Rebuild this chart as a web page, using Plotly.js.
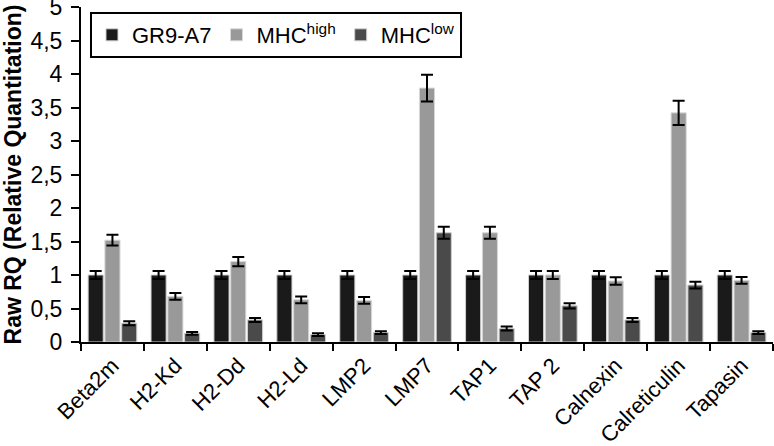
<!DOCTYPE html>
<html>
<head>
<meta charset="utf-8">
<script src="https://cdn.plot.ly/plotly-3.0.1.min.js"></script>
<style>
  html, body { margin: 0; padding: 0; background: #fff; }
  #myDiv { width: 774px; height: 446px; }
</style>
</head>
<body>
<div id="myDiv"></div>
<script>
var genes = ["Beta2m", "H2-Kd", "H2-Dd", "H2-Ld", "LMP2", "LMP7", "TAP1", "TAP 2", "Calnexin", "Calreticulin", "Tapasin"];

var gr9 = [1, 1, 1, 1, 1, 1, 1, 1, 1, 1, 1];
var gr9Err = [0.06, 0.06, 0.06, 0.06, 0.06, 0.06, 0.06, 0.06, 0.06, 0.06, 0.06];

var mhcHigh = [1.52, 0.68, 1.2, 0.63, 0.62, 3.79, 1.63, 1.0, 0.91, 3.42, 0.92];
var mhcHighErr = [0.08, 0.05, 0.07, 0.05, 0.05, 0.2, 0.09, 0.06, 0.055, 0.18, 0.05];

var mhcLow = [0.28, 0.13, 0.33, 0.11, 0.14, 1.63, 0.2, 0.54, 0.33, 0.85, 0.14];
var mhcLowErr = [0.03, 0.02, 0.03, 0.02, 0.02, 0.09, 0.03, 0.04, 0.03, 0.05, 0.02];

var yTickVals = [0, 0.5, 1, 1.5, 2, 2.5, 3, 3.5, 4, 4.5, 5];
var yTickText = ["0", "0,5", "1", "1,5", "2", "2,5", "3", "3,5", "4", "4,5", "5"];

function errBar(arr) {
  return { type: "data", array: arr, visible: true, color: "#000", thickness: 2, width: 6 };
}

var trace1 = {
  x: genes,
  y: gr9,
  name: "GR9-A7",
  type: "bar",
  marker: { color: "#1a1a1a", line: { color: "#cfcfcf", width: 1 } },
  error_y: errBar(gr9Err)
};

var trace2 = {
  x: genes,
  y: mhcHigh,
  name: "MHC<sup>high</sup>",
  type: "bar",
  marker: { color: "#999999", line: { color: "#d8d8d8", width: 1 } },
  error_y: errBar(mhcHighErr)
};

var trace3 = {
  x: genes,
  y: mhcLow,
  name: "MHC<sup>low</sup>",
  type: "bar",
  marker: { color: "#4a4a4a", line: { color: "#cfcfcf", width: 1 } },
  error_y: errBar(mhcLowErr)
};

var data = [trace1, trace2, trace3];

var layout = {
  width: 774,
  height: 446,
  margin: { l: 81, r: 1, t: 7, b: 104 },
  paper_bgcolor: "#fff",
  plot_bgcolor: "#fff",
  font: { family: "Liberation Sans, Arial, sans-serif", size: 22, color: "#000" },
  barmode: "group",
  bargap: 0.2,
  bargroupgap: 0.1,
  showlegend: true,
  legend: {
    orientation: "h",
    x: 0.013,
    y: 0.985,
    xanchor: "left",
    yanchor: "top",
    bordercolor: "#000",
    borderwidth: 2,
    bgcolor: "#fff",
    font: { size: 22 },
    itemwidth: 30
  },
  xaxis: {
    type: "category",
    showline: true,
    linecolor: "#000",
    linewidth: 2,
    ticks: "outside",
    tickson: "boundaries",
    ticklen: 7,
    tickwidth: 2,
    tickcolor: "#000",
    tickangle: -45,
    tickfont: { size: 22 },
    showgrid: false,
    zeroline: false
  },
  yaxis: {
    range: [0, 5],
    tickmode: "array",
    tickvals: yTickVals,
    ticktext: yTickText,
    ticklabeloverflow: "allow",
    showline: true,
    linecolor: "#000",
    linewidth: 2,
    ticks: "outside",
    ticklen: 8,
    tickwidth: 2,
    tickcolor: "#000",
    ticklabelstandoff: 4,
    showgrid: false,
    zeroline: false,
    tickfont: { size: 23 },
    title: { text: "<b>Raw RQ (Relative Quantitation)</b>", font: { size: 23 }, standoff: 6 }
  }
};

Plotly.newPlot("myDiv", data, layout, { displayModeBar: false });
</script>
</body>
</html>
